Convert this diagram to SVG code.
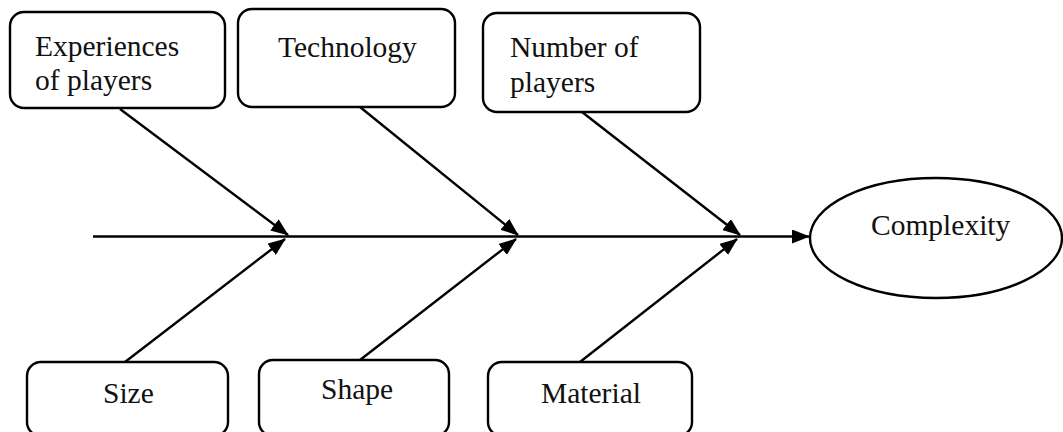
<svg xmlns="http://www.w3.org/2000/svg" width="1063" height="432" viewBox="0 0 1063 432">
  <style>
    .box { fill: #ffffff; stroke: #000000; stroke-width: 2.4; }
    .label { font-family: "Liberation Serif", "Times New Roman", serif; font-size: 29.5px; fill: #111111; }
    .wire { fill: none; stroke: #000000; stroke-width: 2.4; }
  </style>
  <defs>
    <marker id="head" viewBox="0 0 18 14" refX="17" refY="7" markerWidth="18" markerHeight="14" markerUnits="userSpaceOnUse" orient="auto">
      <path d="M0,0 L18,7 L0,14 Z" fill="#000000"/>
    </marker>
  </defs>

  <rect width="1063" height="432" fill="#ffffff"/>

  <!-- connectors -->
  <g id="connectors">
    <line class="wire" x1="93" y1="236.5" x2="809" y2="236.5" marker-end="url(#head)"/>
    <line class="wire" x1="120" y1="109" x2="288" y2="235" marker-end="url(#head)"/>
    <line class="wire" x1="360" y1="107" x2="518" y2="235" marker-end="url(#head)"/>
    <line class="wire" x1="582" y1="112" x2="740" y2="235" marker-end="url(#head)"/>
    <line class="wire" x1="125" y1="362" x2="285" y2="239" marker-end="url(#head)"/>
    <line class="wire" x1="360" y1="360" x2="516" y2="239" marker-end="url(#head)"/>
    <line class="wire" x1="580" y1="362" x2="737" y2="239" marker-end="url(#head)"/>
  </g>

  <!-- causes, top row -->
  <g id="experiences">
    <rect class="box" x="10" y="12" width="215" height="96" rx="14"/>
    <text class="label" x="35" y="56">Experiences</text>
    <text class="label" x="35" y="90">of players</text>
  </g>
  <g id="technology">
    <rect class="box" x="238" y="9" width="217" height="98" rx="14"/>
    <text class="label" x="278" y="57">Technology</text>
  </g>
  <g id="number-of-players">
    <rect class="box" x="483" y="13" width="217" height="99" rx="14"/>
    <text class="label" x="510" y="57">Number of</text>
    <text class="label" x="510" y="92">players</text>
  </g>

  <!-- causes, bottom row -->
  <g id="size">
    <rect class="box" x="27" y="362" width="201" height="74" rx="14"/>
    <text class="label" x="103" y="403">Size</text>
  </g>
  <g id="shape">
    <rect class="box" x="259" y="360" width="190" height="76" rx="14"/>
    <text class="label" x="321" y="399">Shape</text>
  </g>
  <g id="material">
    <rect class="box" x="488" y="362" width="204" height="74" rx="14"/>
    <text class="label" x="541" y="403">Material</text>
  </g>

  <!-- effect -->
  <g id="complexity">
    <ellipse class="box" cx="936" cy="238" rx="126" ry="60"/>
    <text class="label" x="871" y="235">Complexity</text>
  </g>
</svg>
